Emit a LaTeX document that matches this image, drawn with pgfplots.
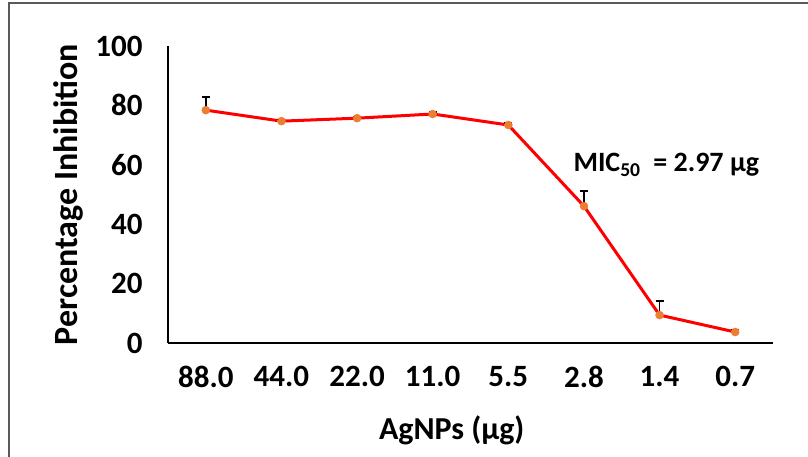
\documentclass[border=0pt]{standalone}
\usepackage{pgfplots}
\pgfplotsset{compat=1.18}
\usepackage{fontspec}
\setmainfont{Carlito}
\definecolor{mkorange}{HTML}{ED7D31}
\begin{document}
\begin{tikzpicture}[x=1pt,y=1pt]
\begin{axis}[
  at={(168pt,114pt)}, anchor=south west,
  scale only axis, width=605pt, height=297pt,
  xmin=-0.5, xmax=7.5, ymin=0, ymax=100,
  axis x line=bottom, axis y line=left,
  axis line style={line width=2.5pt, -},
  xtick={0,...,7},
  xticklabels={88.0,44.0,22.0,11.0,5.5,2.8,1.4,0.7},
  ytick={0,20,40,60,80,100},
  major tick length=0pt,
  /pgf/number format/assume math mode=true,
  tick label style={font=\fontsize{31}{33}\selectfont\bfseries},
  yticklabel style={xshift=-22pt},
  xticklabel style={yshift=-20pt},
  xlabel={AgNPs (µg)},
  ylabel={Percentage Inhibition},
  xlabel style={font=\fontsize{32}{34}\selectfont\bfseries, at={(axis description cs:0.469,0)}, anchor=center, yshift=-87pt},
  ylabel style={font=\fontsize{34}{36}\selectfont\bfseries, at={(axis description cs:0,0.5)}, anchor=center, xshift=0pt, yshift=100pt},
  clip=false,
]
\addplot[red, line width=3pt,
  mark=*, mark size=4pt, mark options={fill=mkorange, draw=mkorange, line width=0.5pt},
  error bars/.cd, y dir=plus, y explicit,
  error bar style={black, line width=1.5pt},
  error mark options={rotate=90, mark size=4pt, black, line width=1.5pt}]
coordinates {
  (0,78.4) +- (0,4.4)
  (1,74.7) +- (0,0.6)
  (2,75.7) +- (0,0.6)
  (3,77.1) +- (0,0.6)
  (4,73.4) +- (0,0.6)
  (5,46.1) +- (0,5.0)
  (6,9.4) +- (0,4.7)
  (7,3.7) +- (0,0.8)
};
\node[anchor=west, inner sep=0pt, font=\fontsize{28}{30}\selectfont\bfseries] at (axis cs:4.86,59.9) {MIC\textsubscript{50}\ \ = 2.97 µg};
\end{axis}
\draw[black!65, line width=1.5pt] (9,0) -- (9,454) -- (808,454);
\pgfresetboundingbox
\useasboundingbox (0,0) rectangle (808,457);
\end{tikzpicture}
\end{document}
